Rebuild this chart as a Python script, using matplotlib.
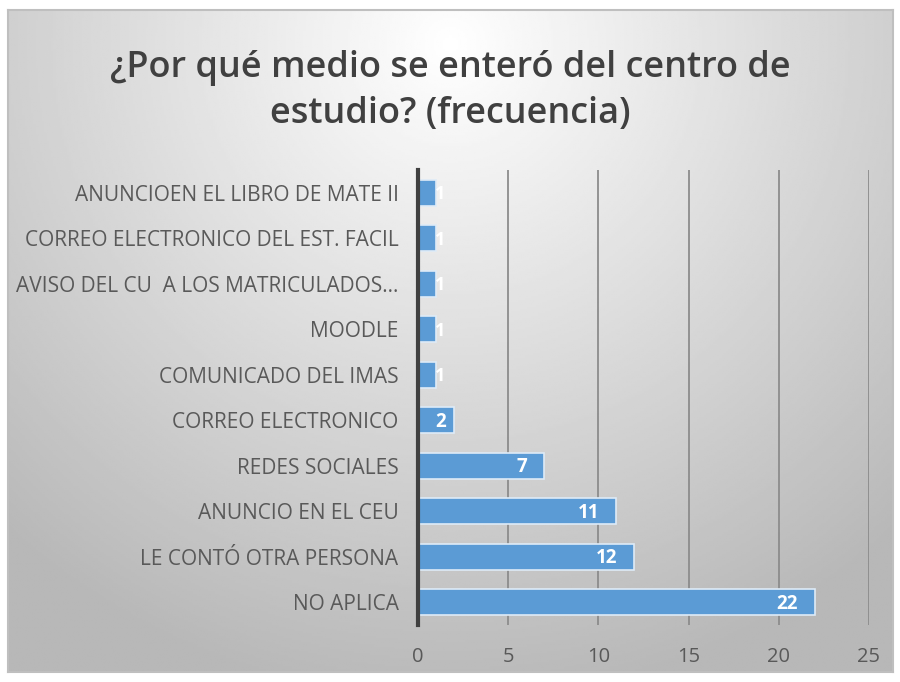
import matplotlib.pyplot as plt
import numpy as np

# Data (top to bottom as shown)
categories = [
    "ANUNCIOEN EL LIBRO DE MATE II",
    "CORREO ELECTRONICO DEL EST. FACIL",
    "AVISO DEL CU  A LOS MATRICULADOS...",
    "MOODLE",
    "COMUNICADO DEL IMAS",
    "CORREO ELECTRONICO",
    "REDES SOCIALES",
    "ANUNCIO EN EL CEU",
    "LE CONTÓ OTRA PERSONA",
    "NO APLICA",
]
values = [1, 1, 1, 1, 1, 2, 7, 11, 12, 22]
x_ticks = [0, 5, 10, 15, 20, 25]
title = "¿Por qué medio se enteró del centro de\nestudio? (frecuencia)"

plt.rcParams["font.family"] = ["Open Sans", "DejaVu Sans"]

W, H = 900, 682
fig = plt.figure(figsize=(W / 100, H / 100), dpi=100)
fig.patch.set_facecolor("white")

# Background panel with radial gradient
bg = fig.add_axes([8 / W, 10 / H, 885 / W, 662 / H])
yy, xx = np.mgrid[0:1:300j, 0:1:400j]
r = np.sqrt(((xx - 0.5) / 0.75) ** 2 + ((yy - 0.05) / 1.0) ** 2)
shade = np.clip(1.0 - 0.28 * r, 0.72, 1.0)
bg.imshow(shade, cmap="gray", vmin=0, vmax=1, aspect="auto",
          extent=[0, 1, 0, 1], origin="upper")
bg.set_xticks([])
bg.set_yticks([])
for s in bg.spines.values():
    s.set_color("#bfbfbf")
    s.set_linewidth(1.5)

fig.text(0.5, 1 - 91 / H, title, ha="center", va="center", fontsize=26,
         fontweight="semibold", color="#404040", linespacing=1.4)

ax = fig.add_axes([418 / W, 1 - 625 / H, 451 / W, 455 / H])
ax.patch.set_alpha(0)

y = np.arange(len(categories))
ax.barh(y, values, height=0.57, color="#5b9bd5", edgecolor="#deebf7",
        linewidth=1.2, zorder=3)

for yi, v in zip(y, values):
    if v < 2:
        ax.annotate(str(v), (v, yi), xytext=(-1, -1), textcoords="offset points",
                    ha="left", va="center", color="white", fontsize=13,
                    fontweight="bold", zorder=4)
    else:
        off = -6 if v < 5 else -12
        ax.annotate(str(v), (v, yi), xytext=(off, -1), textcoords="offset points",
                    ha="right", va="center", color="white", fontsize=13.5,
                    fontweight="bold", zorder=4)

ax.set_xlim(0, 25)
ax.set_ylim(len(categories) - 0.5, -0.5)
ax.set_xticks(x_ticks)
ax.set_yticks(y)
ax.set_yticklabels(categories)
ax.tick_params(axis="both", length=0, colors="#595959")
ax.tick_params(axis="x", pad=16, labelsize=14.5)
ax.tick_params(axis="y", pad=14, labelsize=15)
ax.grid(axis="x", color="#8c8c8c", linewidth=1.3, zorder=1)
for s in ["top", "right", "bottom"]:
    ax.spines[s].set_visible(False)
ax.spines["left"].set_color("#404040")
ax.spines["left"].set_linewidth(3)
ax.spines["left"].set_zorder(5)

fig.savefig("out.png", dpi=100)
